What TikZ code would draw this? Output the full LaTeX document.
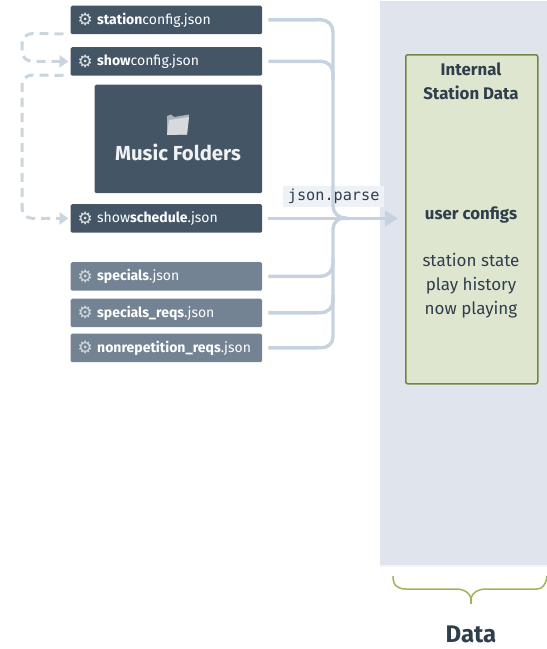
\documentclass[tikz,border=0pt]{standalone}
\usepackage{fontspec}
\setmainfont{Fira Sans}
\newfontfamily\gearfont{DejaVu Sans}
\setmonofont{DejaVu Sans Mono}
\usetikzlibrary{arrows.meta,calc}
\definecolor{dk}{HTML}{445666}
\definecolor{lt}{HTML}{738393}
\definecolor{panelc}{HTML}{DFE4ED}
\definecolor{grn}{HTML}{DFE6D0}
\definecolor{grnb}{HTML}{6F8A3E}
\definecolor{brc}{HTML}{9DB45A}
\definecolor{txt}{HTML}{2F3E4C}
\definecolor{conn}{HTML}{C6D2DF}
\definecolor{dash}{HTML}{CBD5DE}
\definecolor{lab}{HTML}{EEF1F6}
\tikzset{
  filebox/.style={draw=none,rounded corners=1.5pt,minimum height=28.5pt,minimum width=191.5pt,inner sep=0pt,
    anchor=north west,text=white},
  darkfile/.style={filebox,fill=dk},
  lightfile/.style={filebox,fill=lt},
  pipe/.style={draw=conn,line width=3.4pt,rounded corners=12pt},
  dashpipe/.style={draw=dash,line width=3pt,dash pattern=on 9pt off 6pt,rounded corners=10pt},
  tip/.style={-{Triangle[length=13pt,width=15pt,fill=conn,color=conn]}},
  dashtip/.style={-{Triangle[length=9pt,width=12pt,fill=dash,color=dash]}},
  lbl/.style={text=txt,font=\fontsize{17}{18}\selectfont,align=center},
  lblb/.style={lbl,font=\fontsize{16.8}{18}\selectfont\bfseries},
}
\newcommand{\filelabel}[3]{%
  \node[anchor=west,text=#3,inner sep=0pt,font=\gearfont\fontsize{17}{17}\selectfont] at ($(#1.west)+(7,0)$) {⚙};
  \node[anchor=west,text=white,inner sep=0pt,font=\fontsize{14}{14}\selectfont] at ($(#1.west)+(26.5,0)$) {#2};}
\begin{document}
\begin{tikzpicture}[x=1pt,y=-1pt]
\useasboundingbox (0,0) rectangle (547,649);
% panel
\fill[black!4] (380,3) rectangle (547,566.5);
\node[fill=panelc,draw=none,minimum width=167pt,minimum height=564pt,inner sep=0pt,anchor=north west] (panel) at (380,1) {};
\node[fill=grn,draw=grnb,line width=1.5pt,rounded corners=2pt,minimum width=132pt,minimum height=329pt,inner sep=0pt,anchor=north west] (internal) at (405,54) {};
% boxes
\node[darkfile] (station) at (70.5,5.5) {};
\node[darkfile] (showc) at (70.5,47) {};
\node[darkfile,minimum width=167.5pt,minimum height=108.5pt] (music) at (94.5,84.5) {};
\node[darkfile] (sched) at (70.5,204) {};
\node[lightfile] (spec) at (70.5,262) {};
\node[lightfile] (specr) at (70.5,298.5) {};
\node[lightfile] (nonrep) at (70.5,333.5) {};
\filelabel{station}{\textbf{station}config.json}{white!85!dk}
\filelabel{showc}{\textbf{show}config.json}{white!85!dk}
\filelabel{sched}{show\textbf{schedule}.json}{white!85!dk}
\filelabel{spec}{\textbf{specials}.json}{white!70!lt}
\filelabel{specr}{\textbf{specials\_reqs}.json}{white!70!lt}
\filelabel{nonrep}{\textbf{nonrepetition\_reqs}.json}{white!70!lt}
% music
\node[text=white!92!dk,inner sep=0pt,font=\fontsize{20.3}{22}\selectfont\bfseries] (musict) at (178,152) {Music Folders};
\fill[white!55!dk] (167,116) -- (171,114.5) -- (174,117) -- (189,114.5) -- (187,134.5) -- (167,135) -- cycle;
\fill[white!78!dk] (169,120) -- (189,117) -- (187,134.5) -- (167,135) -- cycle;
% label
\node[fill=lab,inner sep=0pt,minimum width=101pt,minimum height=21pt,anchor=north west,text=txt,font=\ttfamily\fontsize{15.2}{16}\selectfont] (parse) at (283,186) {json.parse};
% connectors
\coordinate (trunk) at (333,218);
\draw[pipe,tip,shorten <=6pt,shorten >=7pt] (sched.east) -- (internal.west |- sched.east);
\draw[pipe,shorten <=6pt] (station.east) -- (333,19.75) -- (333,218) -- (347,218);
\draw[pipe,shorten <=6pt] (showc.east) -- (333,61.25) -- (333,80);
\draw[pipe,shorten <=6pt,rounded corners=11pt] (nonrep.east) -- (333,347.75) -- (333,218) -- (347,218);
\draw[pipe,shorten <=6pt] (specr.east) -- (333,312.75) -- (333,295);
\draw[pipe,shorten <=6pt] (spec.east) -- (333,276.25) -- (333,258);
% dashed
\coordinate (d1) at ($(station.south west)+(-7,-0.5)$);
\coordinate (d2) at ($(showc.south west)+(-7,-0.5)$);
\draw[dashpipe,dashtip,shorten >=2pt] (d1) -- (22,33.5) -- (22,61.25) -- (showc.west);
\draw[dashpipe,dashtip,shorten >=2pt] (d2) -- (22,75) -- (22,218.25) -- (sched.west);
% internal text
\node[lblb] (i1) at (471,81) {Internal\\[6pt]Station Data};
\node[lblb] (i2) at (471,214.5) {user configs};
\node[lbl] (i3) at (471,285.5) {station state\\[6pt]play history\\[6pt]now playing};
% brace
\coordinate (bl) at (393,576);
\coordinate (br) at (547,576);
\draw[brc,line width=1.5pt] (bl) .. controls (393,586) and (398,589) .. (406,589) -- (455,589)
  .. controls (464,589) and (469,592) .. (471,598) .. controls (473,592) and (478,589) .. (487,589) -- (537,589)
  .. controls (542,589) and (546,585) .. (br);
\draw[brc,line width=1.5pt] (471,596) -- (471,604);
\node[text=txt,font=\fontsize{24}{26}\selectfont\bfseries,inner sep=0pt] (data) at (471,634.5) {Data};
\end{tikzpicture}
\end{document}
